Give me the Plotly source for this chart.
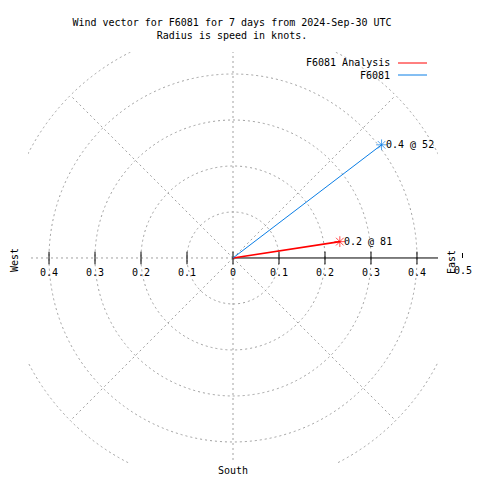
import numpy as np
import plotly.graph_objects as go

# ---- data ----
series_names = ["F6081 Analysis", "F6081"]
speeds_kt = [0.235, 0.406]          # radius = speed in knots
directions_deg = [81.3, 52.7]       # compass bearing (deg from north, clockwise)
series_colors = ["#ff0000", "#0a7ee6"]
series_widths = [1.6, 1.0]

ring_values = [0.1, 0.2, 0.3, 0.4, 0.5]
spoke_angles = [0, 45, 135, 180, 225, 270, 315]
tick_values = [-0.4, -0.3, -0.2, -0.1, 0.0, 0.1, 0.2, 0.3, 0.4]
tick_labels = ["0.4", "0.3", "0.2", "0.1", "0", "0.1", "0.2", "0.3", "0.4"]
edge_tick_label = "0.5"

title_lines = ["Wind vector for F6081 for 7 days from 2024-Sep-30 UTC",
               "Radius is speed in knots."]

OFF = 8                      # page body margin of the html page
W, H = 480, 480
PL, PT, PW, PH = 28, 52, 410, 411   # plot area in window pixels
L, T = PL - OFF, PT - OFF
R, B = W - L - PW, H - T - PH
XR = [-0.4457, 0.4457]
YR = [-0.4457, 0.4478]
FONT = "DejaVu Sans Mono"
GRID = "#a0a0a0"


def px(x):
    return (x - PL) / PW


def py(y):
    return (PT + PH - y) / PH


fig = go.Figure()

shapes = []
for r in ring_values:
    shapes.append(dict(type="circle", xref="x", yref="y", x0=-r, x1=r, y0=-r, y1=r,
                       line=dict(color=GRID, width=1, dash="2px,3px"), layer="below"))
for a in spoke_angles:
    th = np.deg2rad(a)
    shapes.append(dict(type="line", xref="x", yref="y", x0=0, y0=0,
                       x1=0.5 * np.sin(th), y1=0.5 * np.cos(th),
                       line=dict(color=GRID, width=1, dash="2px,3px"), layer="below"))
shapes.append(dict(type="line", xref="x", yref="y", x0=0, y0=0, x1=0.5, y1=0,
                   line=dict(color="black", width=1), layer="below"))
# tick at radius 0.5 (outside plot border)
shapes.append(dict(type="line", xref="paper", yref="paper", x0=px(462.5), x1=px(462.5),
                   y0=py(253), y1=py(258), line=dict(color="black", width=1)))

fig.add_trace(go.Scatter(x=tick_values, y=[0] * len(tick_values), mode="markers",
                         marker=dict(symbol="line-ns", size=9,
                                     line=dict(color="black", width=1)),
                         cliponaxis=False, showlegend=False, hoverinfo="skip"))

tfont = dict(family=FONT, size=10, color="black")
annotations = []
for v, t in zip(tick_values, tick_labels):
    annotations.append(dict(x=v, y=0, xref="x", yref="y", text=t, showarrow=False,
                            xanchor="center", yanchor="middle", yshift=-15, font=tfont))
annotations.append(dict(x=px(463), y=py(270), xref="paper", yref="paper", text=edge_tick_label,
                        showarrow=False, xanchor="center", yanchor="middle", font=tfont))

for name, s, d, c, w in zip(series_names, speeds_kt, directions_deg, series_colors, series_widths):
    th = np.deg2rad(d)
    xe, ye = s * np.sin(th), s * np.cos(th)
    fig.add_trace(go.Scatter(x=[0, xe], y=[0, ye], mode="lines+markers", name=name,
                             line=dict(color=c, width=w),
                             marker=dict(symbol="asterisk-open", size=[0, 9],
                                         line=dict(color=c, width=1)),
                             showlegend=False))
    annotations.append(dict(x=xe, y=ye, xref="x", yref="y",
                            text=f"{s:.1f} @ {int(d)}", showarrow=False,
                            xanchor="left", yanchor="middle", xshift=2, font=tfont))

for i, (name, c) in enumerate(zip(series_names, series_colors)):
    yy = 63 + 12 * i
    annotations.append(dict(x=px(392), y=py(yy), xref="paper", yref="paper", text=name,
                            showarrow=False, xanchor="right", yanchor="middle", font=tfont))
    shapes.append(dict(type="line", xref="paper", yref="paper", x0=px(398), x1=px(427),
                       y0=py(yy), y1=py(yy), line=dict(color=c, width=1)))

annotations.append(dict(x=px(14), y=py(260), xref="paper", yref="paper", text="West",
                        textangle=-90, showarrow=False, xanchor="center", yanchor="middle",
                        font=tfont))
annotations.append(dict(x=px(451), y=py(262), xref="paper", yref="paper", text="East",
                        textangle=-90, showarrow=False, xanchor="center", yanchor="middle",
                        font=tfont))
annotations.append(dict(x=px(233), y=py(470), xref="paper", yref="paper", text="South",
                        showarrow=False, xanchor="center", yanchor="middle", font=tfont))

fig.update_layout(
    width=W, height=H,
    margin=dict(l=L, r=R, t=T, b=B),
    paper_bgcolor="white", plot_bgcolor="white",
    title=dict(text="<br>".join(title_lines), x=(232 - OFF) / W, xanchor="center",
               y=1 - (26 - OFF) / H, yanchor="middle", yref="container", font=tfont),
    xaxis=dict(range=XR, showgrid=False, zeroline=False, showticklabels=False,
               showline=False, fixedrange=True),
    yaxis=dict(range=YR, showgrid=False, zeroline=False, showticklabels=False,
               showline=False, fixedrange=True),
    shapes=shapes, annotations=annotations, showlegend=False,
)

fig.write_html("out.html")
